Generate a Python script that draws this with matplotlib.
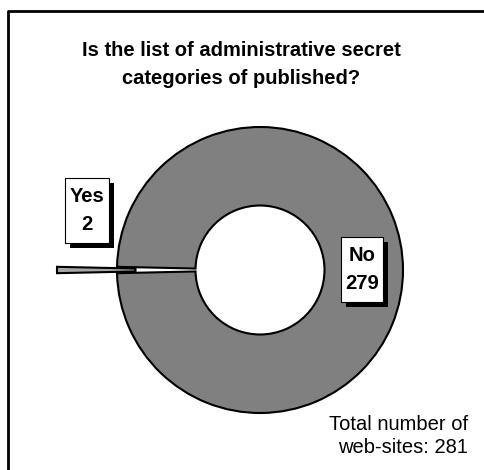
import matplotlib
matplotlib.use('Agg')
import matplotlib.pyplot as plt
from matplotlib.patches import Rectangle
from matplotlib.lines import Line2D

plt.rcParams['font.family'] = ['Liberation Sans', 'DejaVu Sans']

Labels = ["No", "Yes"]
Counts = [279, 2]
Title = "Is the list of administrative secret\ncategories of published?"
Total = sum(Counts)

W, H = 484, 470
fig = plt.figure(figsize=(W/100.0, H/100.0), dpi=100)
ax = fig.add_axes([0, 0, 1, 1])

# outer frame, open at right and bottom
fig.add_artist(Line2D([8.0/W, 8.0/W, 1.02], [-0.02, 1-11.0/H, 1-11.0/H],
                      transform=fig.transFigure, color='black', lw=2))

R = 143.0
Rin = 64.5
Cx, Cy = 260.0, 200.0
start = 180.0 - 360.0*(Counts[0] + Counts[1]/2.0)/Total
wedges, _ = ax.pie(Counts, radius=R, center=(Cx, Cy), startangle=start,
                   explode=[0, 60.0], colors=['#808080', '#a6a6a6'],
                   wedgeprops=dict(width=R-Rin, edgecolor='black', linewidth=1.5),
                   frame=True)
ax.set_xlim(0, W)
ax.set_ylim(0, H)
ax.set_aspect('equal')
ax.axis('off')

ax.text(241, H-64, Title, ha='center', va='center', fontsize=14.5,
        fontweight='bold', linespacing=1.6)

def LabelBox(x0, y0, w, h, txt):
    ax.add_patch(Rectangle((x0+5, y0-5), w, h, facecolor='black', edgecolor='none', zorder=5))
    ax.add_patch(Rectangle((x0, y0), w, h, facecolor='white', edgecolor='black', lw=0.8, zorder=6))
    ax.text(x0+w/2.0, y0+h/2.0, txt, ha='center', va='center', fontsize=14.5,
            fontweight='bold', linespacing=1.55, zorder=7)

LabelBox(65, H-243, 44, 65, "%s\n%d" % (Labels[1], Counts[1]))
LabelBox(341, H-302, 42, 65, "%s\n%d" % (Labels[0], Counts[0]))

ax.text(468, H-436, "Total number of\nweb-sites: %d" % Total, ha='right', va='center',
        fontsize=14.5, linespacing=1.3)

plt.savefig("out.png", dpi=100)
